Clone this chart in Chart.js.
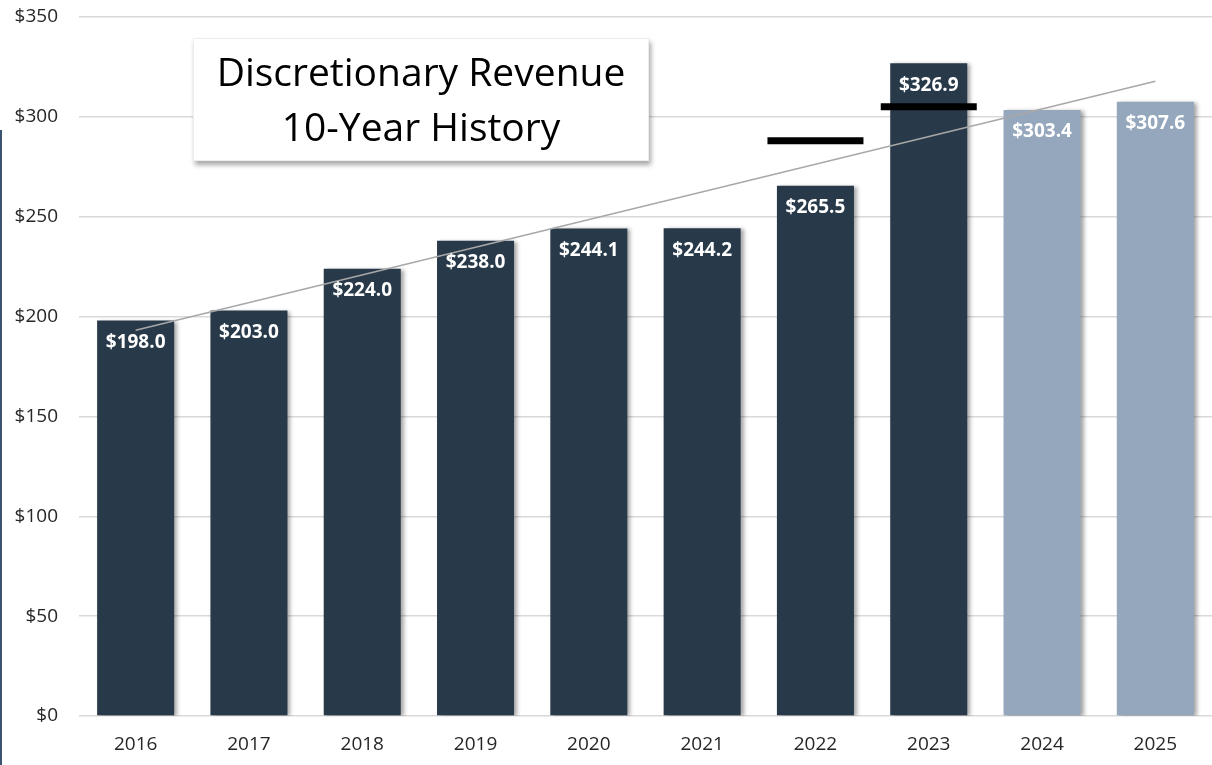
<!DOCTYPE html>
<html>
<head>
<meta charset="utf-8">
<script src="https://cdn.jsdelivr.net/npm/chart.js@4/dist/chart.umd.min.js"></script>
<style>
  html, body { margin: 0; padding: 0; background: #fff; }
  #wrap { position: relative; width: 1212px; height: 765px; overflow: hidden; }
  #myChart { display: block; }
  #edge { position: absolute; left: 0; top: 130px; width: 2px; height: 635px; background: #3b5470; }
  #titleBox {
    position: absolute; left: 193px; top: 38px; width: 456px; height: 123px;
    background: #fff; border: 1px solid #eeeeee;
    box-shadow: 2px 4px 5px rgba(0,0,0,0.35);
    font-family: "Open Sans", sans-serif; font-size: 39px; line-height: 55px;
    text-align: center; color: #000; box-sizing: border-box; padding-top: 4px;
  }
</style>
</head>
<body>
<div id="wrap">
  <canvas id="myChart" width="1212" height="765"></canvas>
  <div id="edge"></div>
  <div id="titleBox">Discretionary Revenue<br>10-Year History</div>
</div>
<script>
const years = ['2016', '2017', '2018', '2019', '2020', '2021', '2022', '2023', '2024', '2025'];
const revenue = [198.0, 203.0, 224.0, 238.0, 244.1, 244.2, 265.5, 326.9, 303.4, 307.6];
const isProjection = [false, false, false, false, false, false, false, false, true, true];
// trend line end points (2016 and 2025)
const trendLine = [193.2, null, null, null, null, null, null, null, null, 317.8];
// black target marks
const targets = [null, null, null, null, null, null, 288, 305, null, null];
const yTicks = [0, 50, 100, 150, 200, 250, 300, 350];

const darkBar = '#283a4a';
const lightBar = '#95a7bd';

const barShadow = {
    id: 'barShadow',
    beforeDatasetDraw(chart, args) {
        if (args.index !== 0) return;
        const ctx = chart.ctx;
        ctx.save();
        ctx.shadowColor = 'rgba(0,0,0,0.35)';
        ctx.shadowBlur = 4;
        ctx.shadowOffsetX = 3;
        ctx.shadowOffsetY = 1;
    },
    afterDatasetDraw(chart, args) {
        if (args.index !== 0) return;
        chart.ctx.restore();
    }
};

const barLabels = {
    id: 'barLabels',
    afterDatasetsDraw(chart) {
        const ctx = chart.ctx;
        const meta = chart.getDatasetMeta(0);
        ctx.save();
        ctx.fillStyle = '#ffffff';
        ctx.font = 'bold 19px "Open Sans", sans-serif';
        ctx.textAlign = 'center';
        ctx.textBaseline = 'middle';
        meta.data.forEach((bar, i) => {
            ctx.fillText('$' + revenue[i].toFixed(1), bar.x, bar.y + 22);
        });
        ctx.restore();
    }
};

const data = {
    labels: years,
    datasets: [{
        type: 'bar',
        label: 'Revenue',
        data: revenue,
        backgroundColor: isProjection.map(p => p ? lightBar : darkBar),
        barPercentage: 0.68,
        categoryPercentage: 1.0,
        order: 3
    }, {
        type: 'line',
        label: 'Trend',
        data: trendLine,
        spanGaps: true,
        borderColor: '#a8a8a8',
        borderWidth: 1.5,
        pointRadius: 0,
        fill: false,
        order: 2
    }, {
        type: 'line',
        label: 'Target',
        data: targets,
        showLine: false,
        pointStyle: 'line',
        pointRadius: 48,
        pointBorderWidth: 7,
        pointBorderColor: '#000000',
        borderColor: '#000000',
        order: 1
    }]
};

const config = {
    type: 'bar',
    data: data,
    options: {
        responsive: false,
        animation: false,
        layout: { autoPadding: false, padding: { top: 17, right: 0, bottom: 0, left: 0 } },
        plugins: {
            legend: { display: false },
            tooltip: { enabled: false }
        },
        scales: {
            x: {
                grid: { display: false, drawTicks: false },
                border: { display: false },
                ticks: {
                    padding: 17,
                    color: '#262626',
                    font: { family: '"Open Sans", sans-serif', size: 19 }
                },
                afterFit: (scale) => { scale.height = 49; }
            },
            y: {
                min: 0,
                max: 350,
                afterBuildTicks: (scale) => { scale.ticks = yTicks.map(v => ({ value: v })); },
                grid: { color: '#d9d9d9', lineWidth: 1.5, drawTicks: false },
                border: { display: false },
                ticks: {
                    padding: 21,
                    color: '#262626',
                    font: { family: '"Open Sans", sans-serif', size: 19 },
                    callback: (v) => '$' + v
                },
                afterFit: (scale) => {
                    scale.width = 79;
                    scale.paddingTop = 0;
                    scale.paddingBottom = 0;
                }
            }
        }
    },
    plugins: [barShadow, barLabels]
};

let myChart = new Chart(
    document.getElementById('myChart'),
    config
);
</script>
</body>
</html>
